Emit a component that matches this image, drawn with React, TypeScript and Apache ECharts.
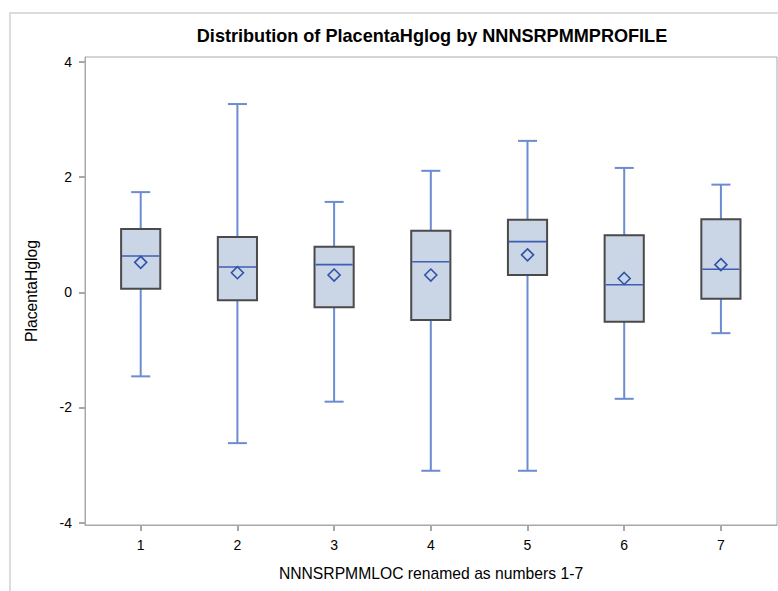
import React, { useEffect, useRef } from "react";
import * as echarts from "echarts";

const categories = [1, 2, 3, 4, 5, 6, 7];
const lowWhisker = [-1.46, -2.62, -1.9, -3.1, -3.1, -1.85, -0.71];
const q1 = [0.06, -0.14, -0.26, -0.48, 0.3, -0.51, -0.11];
const median = [0.63, 0.44, 0.48, 0.53, 0.88, 0.13, 0.4];
const q3 = [1.1, 0.96, 0.79, 1.07, 1.26, 0.99, 1.27];
const highWhisker = [1.74, 3.27, 1.57, 2.11, 2.63, 2.16, 1.87];
const mean = [0.52, 0.34, 0.3, 0.3, 0.65, 0.24, 0.48];
const yTicks = [-4, -2, 0, 2, 4];

const FONT = "'Liberation Sans', Arial, sans-serif";

export default function App() {
  const ref = useRef<HTMLDivElement>(null);
  useEffect(() => {
    if (!ref.current) return;
    const chart = echarts.init(ref.current, undefined, { renderer: "svg" });
    const data = categories.map((c, i) => [c, lowWhisker[i], q1[i], median[i], q3[i], highWhisker[i], mean[i]]);
    chart.setOption({
      animation: false,
      backgroundColor: "#ffffff",
      title: {
        text: "Distribution of PlacentaHglog by NNNSRPMMPROFILE",
        left: 432,
        top: 27,
        padding: 0,
        textAlign: "center",
        textStyle: { fontFamily: FONT, fontWeight: "bold", fontSize: 18.1, color: "#000" },
      },
      graphic: [
        { type: "line", shape: { x1: 9, y1: 13, x2: 778, y2: 13 }, style: { stroke: "#dcdcdc", lineWidth: 2 } },
        { type: "line", shape: { x1: 10, y1: 13, x2: 10, y2: 591 }, style: { stroke: "#dcdcdc", lineWidth: 2 } },
      ],
      grid: {
        left: 85,
        top: 57,
        width: 692,
        height: 468,
        show: true,
        borderColor: "#a8a8a8",
        borderWidth: 1,
        backgroundColor: "transparent",
      },
      xAxis: {
        type: "value",
        min: 0.424,
        max: 7.58,
        name: "NNNSRPMMLOC renamed as numbers 1-7",
        nameLocation: "middle",
        nameGap: 40,
        nameTextStyle: { fontFamily: FONT, fontSize: 15.7, color: "#000" },
        axisLine: { show: true, onZero: false, lineStyle: { color: "#a8a8a8" } },
        axisTick: { show: true, length: 6, customValues: categories, lineStyle: { color: "#a8a8a8", width: 2 } },
        axisLabel: { customValues: categories, fontFamily: FONT, fontSize: 14, color: "#000", margin: 13 },
        splitLine: { show: false },
      },
      yAxis: {
        type: "value",
        min: -4.042,
        max: 4.087,
        name: "PlacentaHglog",
        nameLocation: "middle",
        nameGap: 46,
        nameTextStyle: { fontFamily: FONT, fontSize: 15.7, color: "#000" },
        axisLine: { show: true, onZero: false, lineStyle: { color: "#a8a8a8" } },
        axisTick: { show: true, length: 6, customValues: yTicks, lineStyle: { color: "#a8a8a8", width: 2 } },
        axisLabel: { customValues: yTicks, fontFamily: FONT, fontSize: 14, color: "#000", margin: 13 },
        splitLine: { show: false },
      },
      series: [
        {
          type: "custom",
          data,
          renderItem: (params: any, api: any) => {
            const x = api.value(0);
            const pLow = api.coord([x, api.value(1)]);
            const pQ1 = api.coord([x, api.value(2)]);
            const pMed = api.coord([x, api.value(3)]);
            const pQ3 = api.coord([x, api.value(4)]);
            const pHigh = api.coord([x, api.value(5)]);
            const pMean = api.coord([x, api.value(6)]);
            const boxW = api.size([0.405, 0])[0];
            const capW = api.size([0.197, 0])[0];
            const cx = pMed[0];
            const whisker = { stroke: "#6b8cd0", lineWidth: 2 };
            const d = 6;
            return {
              type: "group",
              children: [
                { type: "line", shape: { x1: cx, y1: pQ3[1], x2: cx, y2: pHigh[1] }, style: whisker },
                { type: "line", shape: { x1: cx, y1: pQ1[1], x2: cx, y2: pLow[1] }, style: whisker },
                { type: "line", shape: { x1: cx - capW / 2, y1: pHigh[1], x2: cx + capW / 2, y2: pHigh[1] }, style: whisker },
                { type: "line", shape: { x1: cx - capW / 2, y1: pLow[1], x2: cx + capW / 2, y2: pLow[1] }, style: whisker },
                {
                  type: "rect",
                  shape: { x: cx - boxW / 2, y: pQ3[1], width: boxW, height: pQ1[1] - pQ3[1] },
                  style: { fill: "#cad5e6", stroke: "#4a4a4a", lineWidth: 2 },
                },
                {
                  type: "line",
                  shape: { x1: cx - boxW / 2 + 1, y1: pMed[1], x2: cx + boxW / 2 - 1, y2: pMed[1] },
                  style: { stroke: "#3d5fb3", lineWidth: 1.6 },
                },
                {
                  type: "polygon",
                  shape: {
                    points: [
                      [cx, pMean[1] - d],
                      [cx + d, pMean[1]],
                      [cx, pMean[1] + d],
                      [cx - d, pMean[1]],
                    ],
                  },
                  style: { fill: "transparent", stroke: "#2f52aa", lineWidth: 1.6 },
                },
              ],
            };
          },
        },
      ],
    });
    return () => chart.dispose();
  }, []);
  return <div ref={ref} style={{ position: "absolute", left: 0, top: 0, width: 778, height: 591 }} />;
}
